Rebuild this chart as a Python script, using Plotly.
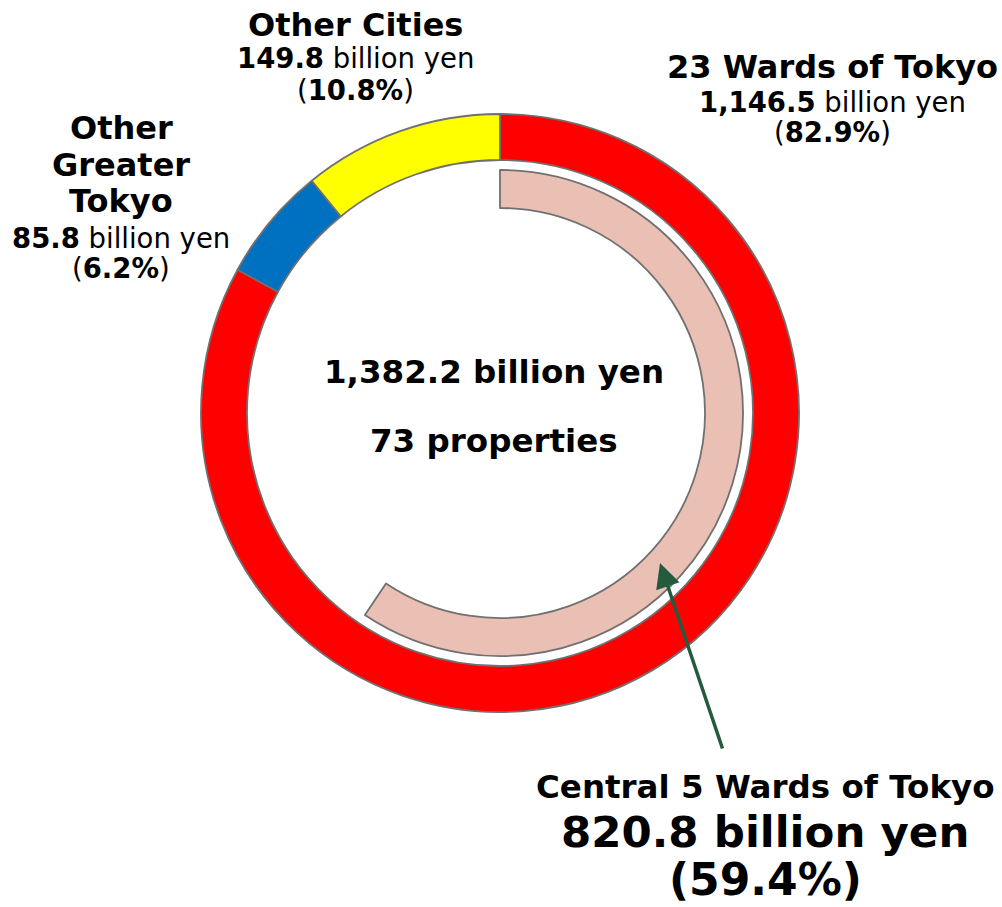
import plotly.graph_objects as go

# ---- data ----
regions = ["23 Wards of Tokyo", "Other Greater Tokyo", "Other Cities"]
region_values = [1146.5, 85.8, 149.8]          # billion yen
region_shares = [82.9, 6.2, 10.8]              # %
region_colors = ["#FF0000", "#0070C0", "#FFFF00"]

central_label = "Central 5 Wards of Tokyo"
central_value = 820.8
central_share = 59.4
total_value = 1382.2
total_properties = 73

W, H = 1002, 907
FONT = "DejaVu Sans"
EDGE = "#707070"

def px(x):
    return x / W

def py(y):
    return 1 - y / H

cx, cy = 500, 413
R_out, r_out = 299, 253
R_in, r_in = 243, 205

fig = go.Figure()

fig.add_trace(go.Pie(
    labels=regions, values=region_values, sort=False, direction="clockwise",
    rotation=0, hole=r_out / R_out, textinfo="none", hoverinfo="label+value",
    marker=dict(colors=region_colors, line=dict(color=EDGE, width=1.8)),
    domain=dict(x=[px(cx - R_out), px(cx + R_out)], y=[py(cy + R_out), py(cy - R_out)]),
    showlegend=False,
))

fig.add_trace(go.Pie(
    labels=[central_label, "rest"], values=[central_value, total_value - central_value],
    sort=False, direction="clockwise", rotation=0, hole=r_in / R_in, textinfo="none",
    hoverinfo="label+value",
    marker=dict(colors=["#EAC0B5", "rgba(0,0,0,0)"], line=dict(color=[EDGE, "rgba(0,0,0,0)"], width=[1.8, 0])),
    domain=dict(x=[px(cx - R_in), px(cx + R_in)], y=[py(cy + R_in), py(cy - R_in)]),
    showlegend=False,
))

def fmt(v):
    return f"{v:,.1f}"

anns = []

def add(text, x, y, size):
    anns.append(dict(text=text, x=px(x), y=py(y), xref="paper", yref="paper",
                     xanchor="center", yanchor="middle", showarrow=False,
                     font=dict(family=FONT, size=size, color="black")))

HEAD, SUB = 32, 27.5

# Other Cities
add(f"<b>{regions[2]}</b>", 355, 25, HEAD)
add(f"<b>{fmt(region_values[2])}</b> billion yen", 355, 58, SUB)
add(f"(<b>{region_shares[2]}%</b>)", 355, 90, SUB)

# 23 Wards
add(f"<b>{regions[0]}</b>", 832, 67, HEAD)
add(f"<b>{fmt(region_values[0])}</b> billion yen", 832, 102, SUB)
add(f"(<b>{region_shares[0]}%</b>)", 832, 132, SUB)

# Other Greater Tokyo (wrapped)
for word, yy in zip(["Other", "Greater", "Tokyo"], [128, 165, 201]):
    add(f"<b>{word}</b>", 121, yy, HEAD)
add(f"<b>{fmt(region_values[1])}</b> billion yen", 121, 238, SUB)
add(f"(<b>{region_shares[1]}%</b>)", 121, 268, SUB)

# center
add(f"<b>{fmt(total_value)} billion yen</b>", 494, 372, 32.5)
add(f"<b>{total_properties} properties</b>", 494, 441, 32.5)

# central 5 wards
add(f"<b>{central_label}</b>", 765, 787, 32.5)
add(f"<b>{fmt(central_value)} billion yen</b>", 765, 832, 43.5)
add(f"<b>({central_share}%)</b>", 765, 879, 44)

# arrow
anns.append(dict(text="", x=px(660), y=py(563), xref="paper", yref="paper",
                 ax=723 - 660, ay=750 - 563, axref="pixel", ayref="pixel",
                 showarrow=True, arrowhead=2, arrowsize=1.4, arrowwidth=3.5,
                 arrowcolor="#245A3E", standoff=0, startstandoff=0))

fig.update_layout(
    width=W, height=H, margin=dict(l=0, r=0, t=0, b=0),
    paper_bgcolor="white", plot_bgcolor="white",
    annotations=anns, showlegend=False,
)

fig.write_html("out.html", config={"displayModeBar": False},
               post_script="document.body.style.margin='0';document.body.style.overflow='hidden';")
